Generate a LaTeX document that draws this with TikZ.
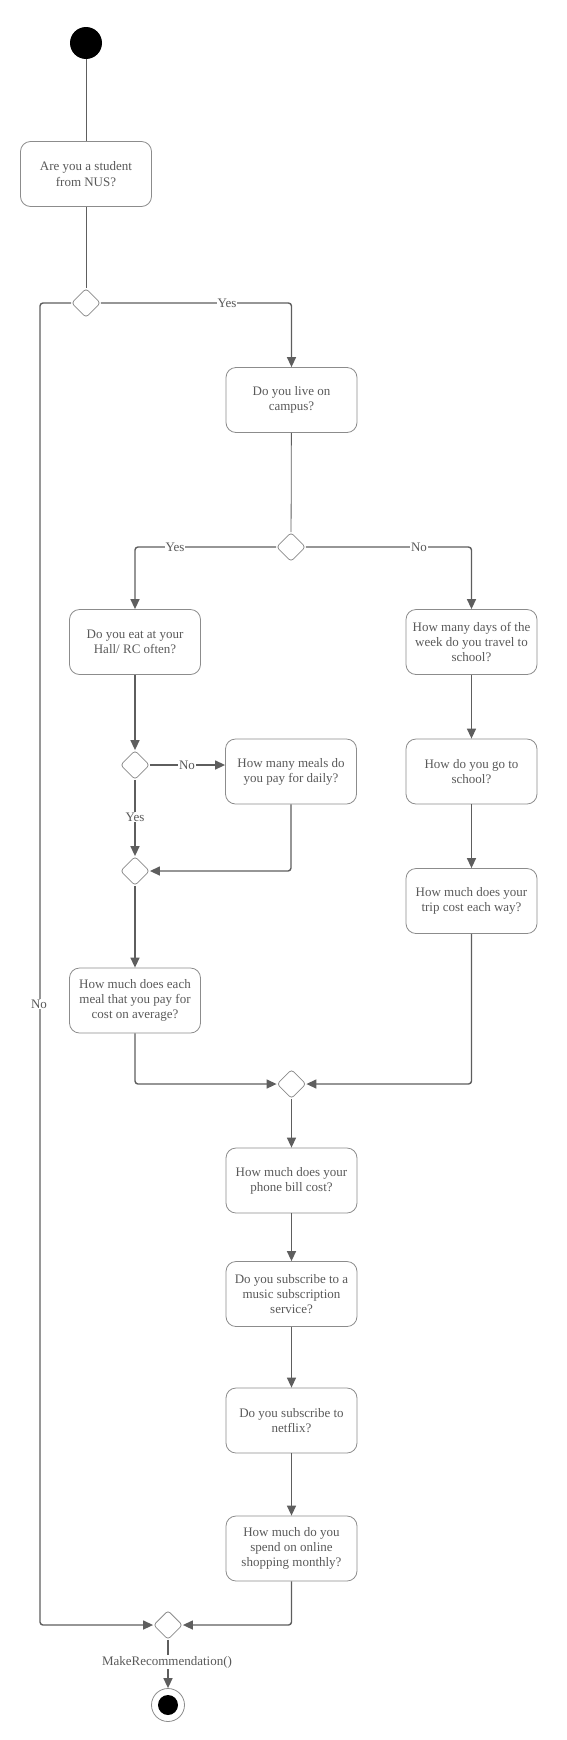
\documentclass[tikz,border=0pt]{standalone}
\usepackage{fontspec}
\setmainfont{Liberation Serif}
\usetikzlibrary{shapes.geometric,arrows.meta}
\definecolor{ln}{HTML}{5E5E5E}
\definecolor{bx}{HTML}{8C8C8C}
\definecolor{tx}{HTML}{595959}
\begin{document}
\begin{tikzpicture}[x=1pt,y=-1pt,font=\fontsize{13}{15.2}\selectfont,
  act/.style={draw=bx,line width=0.8pt,rounded corners=10pt,minimum width=131pt,minimum height=65pt,align=center,text=tx,inner sep=0pt},
  dec/.style={diamond,draw=bx,line width=0.8pt,rounded corners=3pt,minimum width=29pt,minimum height=29pt,inner sep=0pt,fill=white},
  flow/.style={draw=ln,line width=1.4pt,rounded corners=3pt,-{Triangle[length=10pt,width=9pt]}},
  thinl/.style={draw=ln,line width=0.8pt},
  lbl/.style={fill=white,inner sep=1pt,text=tx}]
\useasboundingbox (0,0) rectangle (567,1740);
% nodes
\node[circle,fill=black,minimum size=32pt,inner sep=0pt] (start) at (86,43) {};
\node[act] (q1) at (86,174) {Are you a student\\from NUS?};
\node[dec] (d1) at (86,303) {};
\node[act] (q2) at (291.5,400) {Do you live on\\campus?};
\node[dec] (d2) at (291,547) {};
\node[act] (q3) at (135,642) {Do you eat at your\\Hall/ RC often?};
\node[act] (q4) at (471.5,642) {How many days of the\\week do you travel to\\school?};
\node[dec] (d3) at (135,765) {};
\node[act] (q5) at (291,771.5) {How many meals do\\you pay for daily?};
\node[act] (q6) at (471.5,771.5) {How do you go to\\school?};
\node[dec] (d4) at (135,871) {};
\node[act] (q7) at (471.5,901) {How much does your\\trip cost each way?};
\node[act] (q8) at (135,1000.5) {How much does each\\meal that you pay for\\cost on average?};
\node[dec] (d5) at (291.5,1084) {};
\node[act] (q9) at (291.5,1180.5) {How much does your\\phone bill cost?};
\node[act] (q10) at (291.5,1294) {Do you subscribe to a\\music subscription\\service?};
\node[act] (q11) at (291.5,1420.5) {Do you subscribe to\\netflix?};
\node[act] (q12) at (291.5,1548.5) {How much do you\\spend on online\\shopping monthly?};
\node[dec] (dF) at (168,1625) {};
\node[circle,draw=bx,line width=0.8pt,minimum size=33pt,inner sep=0pt] (fin) at (168,1705) {};
\node[circle,fill=black,minimum size=20pt,inner sep=0pt] (finin) at (fin.center) {};
\coordinate (cL) at (40,1625);
% connectors
\draw[thinl] (start) -- (q1);
\draw[thinl] (q1) -- (d1);
\draw[flow] (d1.east) -| (q2.north);
\draw[flow] (d1.west) -| (cL) -- (dF.west);
\draw[thinl] (q2) -- (d2);
\draw[flow] (d2.west) -| (q3.north);
\draw[flow] (d2.east) -| (q4.north);
\draw[flow] (q3) -- (d3);
\draw[flow] (d3.east) -- (d3.east -| q5.west);
\draw[flow] (d3) -- (d4);
\draw[flow] (q5.south) |- (d4.east);
\draw[flow] (d4) -- (q8);
\draw[flow] (q4) -- (q6);
\draw[flow] (q6) -- (q7);
\draw[flow] (q8.south) |- (d5.west);
\draw[flow] (q7.south) |- (d5.east);
\draw[flow] (d5) -- (q9);
\draw[flow] (q9) -- (q10);
\draw[flow] (q10) -- (q11);
\draw[flow] (q11) -- (q12);
\draw[flow] (q12.south) |- (dF.east);
\draw[flow] (dF) -- (fin);
% labels
\node[lbl] (l1) at (227,303) {Yes};
\node[lbl] (l2) at (39,1004) {No};
\node[lbl] (l3) at (175,547) {Yes};
\node[lbl] (l4) at (419,547) {No};
\node[lbl] (l5) at (187,765) {No};
\node[lbl] (l6) at (135,817) {Yes};
\node[lbl] (l7) at (167,1662) {MakeRecommendation()};
\end{tikzpicture}
\end{document}
